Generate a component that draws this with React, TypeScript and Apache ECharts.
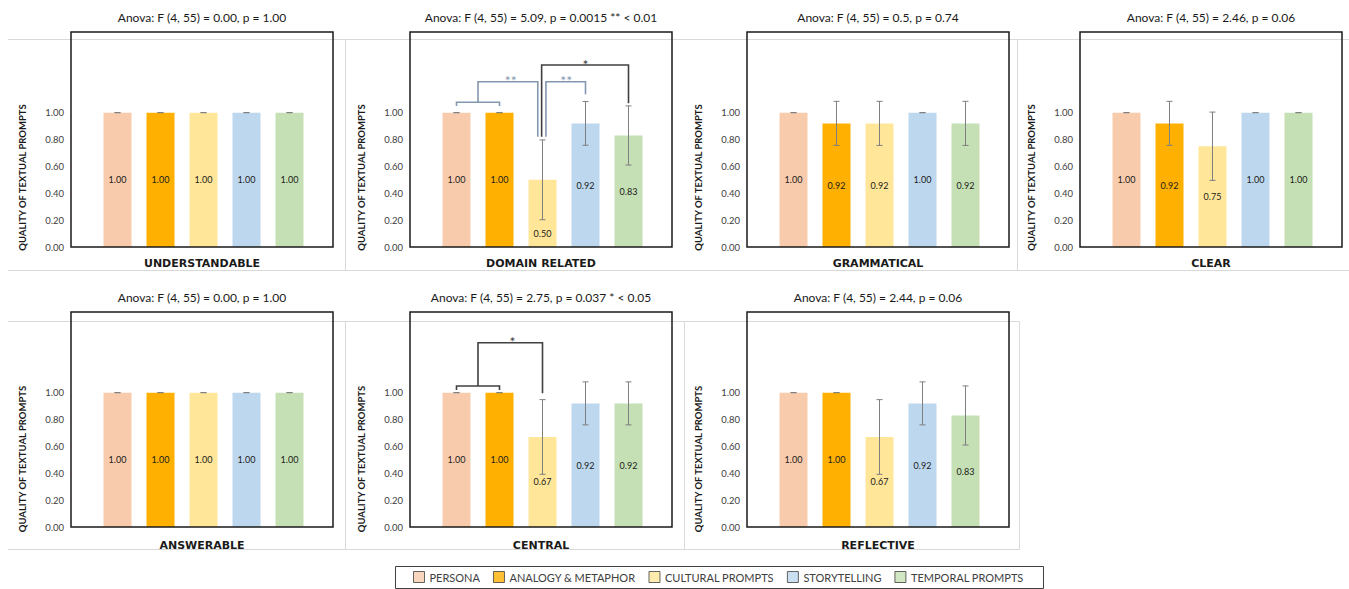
import React, { useEffect, useRef } from "react";
import * as echarts from "echarts";

// ---------- data ----------
const promptTypes = ["PERSONA", "ANALOGY & METAPHOR", "CULTURAL PROMPTS", "STORYTELLING", "TEMPORAL PROMPTS"];

const panelNames = ["UNDERSTANDABLE", "DOMAIN RELATED", "GRAMMATICAL", "CLEAR", "ANSWERABLE", "CENTRAL", "REFLECTIVE"];
const panelTitles = [
  "Anova: F (4, 55) = 0.00, p = 1.00",
  "Anova: F (4, 55) = 5.09, p = 0.0015 ** < 0.01",
  "Anova: F (4, 55) = 0.5, p = 0.74",
  "Anova: F (4, 55) = 2.46, p = 0.06",
  "Anova: F (4, 55) = 0.00, p = 1.00",
  "Anova: F (4, 55) = 2.75, p = 0.037 * < 0.05",
  "Anova: F (4, 55) = 2.44, p = 0.06",
];
const yAxisTitle = "QUALITY OF TEXTUAL PROMPTS";

const understandableMeans = [1.0, 1.0, 1.0, 1.0, 1.0];
const understandableErr = [0, 0, 0, 0, 0];
const domainMeans = [1.0, 1.0, 0.5, 0.92, 0.83];
const domainErr = [0, 0, 0.297, 0.163, 0.22];
const grammaticalMeans = [1.0, 0.92, 0.92, 1.0, 0.92];
const grammaticalErr = [0, 0.164, 0.164, 0, 0.164];
const clearMeans = [1.0, 0.92, 0.75, 1.0, 1.0];
const clearErr = [0, 0.164, 0.254, 0, 0];
const answerableMeans = [1.0, 1.0, 1.0, 1.0, 1.0];
const answerableErr = [0, 0, 0, 0, 0];
const centralMeans = [1.0, 1.0, 0.67, 0.92, 0.92];
const centralErr = [0, 0, 0.278, 0.16, 0.16];
const reflectiveMeans = [1.0, 1.0, 0.67, 0.92, 0.83];
const reflectiveErr = [0, 0, 0.278, 0.16, 0.22];

// significance brackets, in (category index, value) coordinates
const domainPairJoin = [[0, 1.049], [0, 1.077], [1, 1.077], [1, 1.049]];
const domainPairVsCultural = [[0.5, 1.077], [0.5, 1.23], [1.89, 1.23], [1.89, 0.821]];
const domainCulturalVsStory = [[2.08, 0.821], [2.08, 1.23], [3, 1.23], [3, 1.136]];
const domainCulturalVsTemporal = [[1.98, 0.821], [1.98, 1.354], [4, 1.354], [4, 1.069]];
const domainStars: [number, number, string][] = [[1.26, 1.24, "**"], [2.55, 1.24, "**"], [3, 1.36, "*"]];
const centralPairJoin = [[0, 1.019], [0, 1.049], [1, 1.049], [1, 1.019]];
const centralPairVsCultural = [[0.5, 1.049], [0.5, 1.371], [2, 1.371], [2, 0.995]];
const centralStars: [number, number, string][] = [[1.3, 1.38, "*"]];

// ---------- styling / layout ----------
const typeColors = ["#F8CBAD", "#FFB000", "#FFE699", "#BDD7EE", "#C5E0B4"];
const SIG_BLUE = "#8497B0";
const SIG_DARK = "#404040";
const FONT = "Lato";
const BOX_W = 262;
const BOX_H = 215;
const INSET_L = 25;
const BAND_W = 215;
const boxLeft = [71, 410, 747, 1080, 71, 410, 747];
const boxTop = [32, 32, 32, 32, 312, 312, 312];

function at(api: any, x: number, y: number) {
  const x0 = Math.floor(x);
  const p0 = api.coord([x0, y]);
  if (x === x0) return p0;
  const p1 = api.coord([x0 + 1, y]);
  return [p0[0] + (x - x0) * (p1[0] - p0[0]), p0[1]];
}

function bracketSeries(g: number, pts: number[][], color: string) {
  return {
    type: "custom",
    xAxisIndex: g,
    yAxisIndex: g,
    silent: true,
    z: 6,
    data: pts.map((p) => [Math.round(p[0]), p[1]]),
    encode: { x: 0, y: 1 },
    renderItem: (params: any, api: any) => {
      if (params.dataIndex !== 0) return { type: "group", children: [] };
      return {
        type: "polyline",
        shape: { points: pts.map((p) => at(api, p[0], p[1])) },
        style: { stroke: color, lineWidth: 1.6, fill: null },
      };
    },
  };
}

function starSeries(g: number, stars: [number, number, string][], colors: string[]) {
  return {
    type: "custom",
    xAxisIndex: g,
    yAxisIndex: g,
    silent: true,
    z: 7,
    data: stars.map((s) => [Math.round(s[0]), s[1]]),
    encode: { x: 0, y: 1 },
    renderItem: (params: any, api: any) => {
      const s = stars[params.dataIndex];
      const p = at(api, s[0], s[1]);
      return {
        type: "text",
        x: p[0],
        y: p[1],
        style: {
          text: s[2],
          fill: colors[params.dataIndex],
          fontSize: 14,
          fontFamily: FONT,
          align: "center",
          verticalAlign: "middle",
        },
      };
    },
  };
}

export default function App() {
  const ref = useRef<HTMLDivElement>(null);

  useEffect(() => {
    if (!ref.current) return;
    const chart = echarts.init(ref.current, undefined, { renderer: "svg" });

    const means = [understandableMeans, domainMeans, grammaticalMeans, clearMeans, answerableMeans, centralMeans, reflectiveMeans];
    const errs = [understandableErr, domainErr, grammaticalErr, clearErr, answerableErr, centralErr, reflectiveErr];

    const grids: any[] = [];
    const xAxes: any[] = [];
    const yAxes: any[] = [];
    const series: any[] = [];
    const graphics: any[] = [];

    const grayLine = (x1: number, y1: number, x2: number, y2: number) => ({
      type: "line",
      z: 1,
      shape: { x1, y1, x2, y2 },
      style: { stroke: "#d9d9d9", lineWidth: 1 },
      silent: true,
    });
    graphics.push(grayLine(8, 39.5, 1349, 39.5));
    graphics.push(grayLine(8, 270.5, 1349, 270.5));
    graphics.push(grayLine(345.5, 39.5, 345.5, 270.5));
    graphics.push(grayLine(1017.5, 39.5, 1017.5, 270.5));
    graphics.push(grayLine(8, 321.5, 1019.5, 321.5));
    graphics.push(grayLine(8, 549.5, 1019.5, 549.5));
    graphics.push(grayLine(345.5, 321.5, 345.5, 549.5));
    graphics.push(grayLine(684.5, 321.5, 684.5, 549.5));
    graphics.push(grayLine(1019.5, 321.5, 1019.5, 549.5));

    for (let i = 0; i < 7; i++) {
      const L = boxLeft[i];
      const T = boxTop[i];
      const row2 = i >= 4;
      grids.push({ left: L + INSET_L, top: T, width: BAND_W, height: BOX_H, containLabel: false });
      xAxes.push({
        type: "category",
        gridIndex: i,
        data: promptTypes,
        axisLine: { show: false },
        axisTick: { show: false },
        axisLabel: { show: false },
        splitLine: { show: false },
      });
      yAxes.push({
        type: "value",
        gridIndex: i,
        min: 0,
        max: 1.6,
        interval: 0.2,
        offset: INSET_L,
        axisLine: { show: false },
        axisTick: { show: false },
        splitLine: { show: false },
        axisLabel: {
          margin: 7,
          fontSize: 9.5,
          fontFamily: FONT,
          color: "#404040",
          formatter: (v: number) => (v <= 1.0001 ? v.toFixed(2) : ""),
        },
      });
      series.push({
        type: "bar",
        name: panelNames[i],
        xAxisIndex: i,
        yAxisIndex: i,
        barWidth: 28,
        z: 2,
        data: means[i].map((v, k) => {
          const item: any = { value: v, itemStyle: { color: typeColors[k] } };
          // label nudged below the error bar where they would overlap
          if (v - errs[i][k] < v / 2 + 0.05 && v - errs[i][k] > v / 2 - 0.35) {
            item.label = { offset: [0, 20] };
          }
          return item;
        }),
        label: {
          show: true,
          position: "inside",
          formatter: (p: any) => Number(p.value).toFixed(2),
          fontSize: 9,
          fontFamily: FONT,
          color: "#1a1a1a",
        },
        silent: true,
      });
      series.push({
        type: "custom",
        xAxisIndex: i,
        yAxisIndex: i,
        silent: true,
        z: 5,
        data: means[i].map((m, k) => [k, m - errs[i][k], m + errs[i][k]]),
        encode: { x: 0, y: [1, 2] },
        renderItem: (params: any, api: any) => {
          const x = api.value(0);
          const lo = api.coord([x, api.value(1)]);
          const hi = api.coord([x, api.value(2)]);
          const c = 3;
          const st = { stroke: "#7f7f7f", lineWidth: 1 };
          return {
            type: "group",
            children: [
              { type: "line", shape: { x1: lo[0], y1: lo[1], x2: hi[0], y2: hi[1] }, style: st },
              { type: "line", shape: { x1: hi[0] - c, y1: hi[1], x2: hi[0] + c, y2: hi[1] }, style: st },
              { type: "line", shape: { x1: lo[0] - c, y1: lo[1], x2: lo[0] + c, y2: lo[1] }, style: st },
            ],
          };
        },
      });

      graphics.push({
        type: "rect",
        z: 100,
        silent: true,
        shape: { x: L, y: T, width: BOX_W, height: BOX_H },
        style: { fill: "none", stroke: "#1a1a1a", lineWidth: 1.5 },
      });
      graphics.push({
        type: "text",
        z: 100,
        x: L + BOX_W / 2,
        y: row2 ? 297 : 17,
        style: {
          text: panelTitles[i],
          fill: "#1a1a1a",
          fontSize: 12,
          fontFamily: FONT,
          align: "center",
          verticalAlign: "middle",
        },
      });
      graphics.push({
        type: "text",
        z: 100,
        x: L + BOX_W / 2,
        y: row2 ? 545 : 263,
        style: {
          text: panelNames[i],
          fill: "#1a1a1a",
          fontSize: 11,
          fontWeight: "bold",
          fontFamily: "DejaVu Sans",
          align: "center",
          verticalAlign: "middle",
        },
      });
      graphics.push({
        type: "text",
        z: 100,
        x: L - 49,
        y: row2 ? 459 : 177.5,
        rotation: Math.PI / 2,
        style: {
          text: yAxisTitle,
          fill: "#1a1a1a",
          fontSize: 9.5,
          fontWeight: "bold",
          fontFamily: FONT,
          align: "center",
          verticalAlign: "middle",
        },
      });
    }

    series.push(bracketSeries(1, domainPairJoin, SIG_BLUE));
    series.push(bracketSeries(1, domainPairVsCultural, SIG_BLUE));
    series.push(bracketSeries(1, domainCulturalVsStory, SIG_BLUE));
    series.push(bracketSeries(1, domainCulturalVsTemporal, SIG_DARK));
    series.push(starSeries(1, domainStars, [SIG_BLUE, SIG_BLUE, SIG_DARK]));
    series.push(bracketSeries(5, centralPairJoin, SIG_DARK));
    series.push(bracketSeries(5, centralPairVsCultural, SIG_DARK));
    series.push(starSeries(5, centralStars, [SIG_DARK]));

    promptTypes.forEach((name, k) => {
      series.push({
        type: "scatter",
        name,
        xAxisIndex: 0,
        yAxisIndex: 0,
        symbol: "rect",
        itemStyle: { color: typeColors[k] },
        data: [],
      });
    });

    graphics.push({
      type: "rect",
      z: 100,
      silent: true,
      shape: { x: 395.5, y: 566.5, width: 648, height: 22 },
      style: { fill: "none", stroke: "#404040", lineWidth: 1 },
    });

    chart.setOption({
      animation: false,
      backgroundColor: "#ffffff",
      grid: grids,
      xAxis: xAxes,
      yAxis: yAxes,
      series,
      graphic: { elements: graphics },
      legend: {
        data: promptTypes,
        left: 413,
        top: 571,
        icon: "rect",
        itemWidth: 11,
        itemHeight: 11,
        itemGap: 13,
        padding: 0,
        selectedMode: false,
        itemStyle: { borderColor: "#404040", borderWidth: 1 },
        textStyle: { fontSize: 11, fontFamily: FONT, color: "#404040" },
      },
    });

    return () => chart.dispose();
  }, []);

  return (
    <div
      ref={ref}
      style={{ position: "absolute", left: 0, top: 0, width: 1349, height: 589, background: "#fff" }}
    />
  );
}
